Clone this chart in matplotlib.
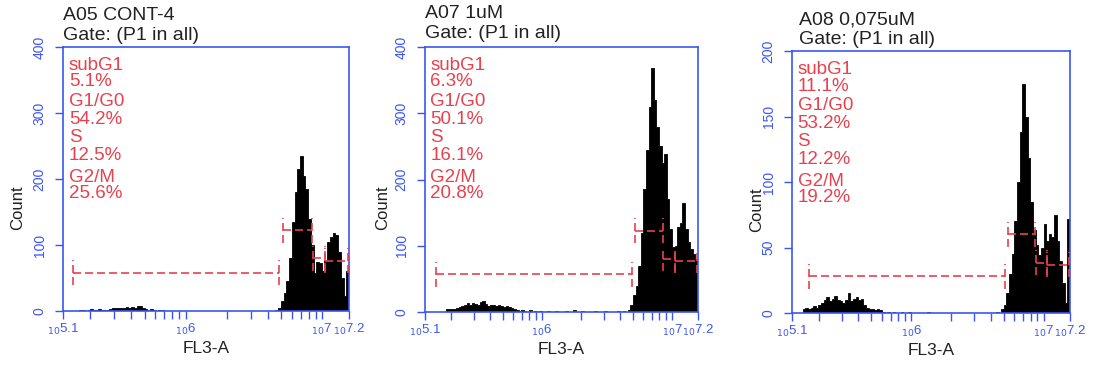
import numpy as np
import matplotlib
matplotlib.use("Agg")
import matplotlib.pyplot as plt
from matplotlib.ticker import LogLocator, NullFormatter

plt.rcParams['font.family'] = ['Liberation Sans', 'DejaVu Sans']

W, H = 1098, 370

# histogram counts, bins of 0.02 decade from 10^5.1 to 10^7.2 (105 bins)
a05_counts = [
    0, 0, 0, 0, 0, 0, 1, 2, 0, 2, 3, 1, 2, 3, 2,
    1, 2, 3, 4, 5, 5, 4, 5, 6, 5, 6, 4, 7, 8, 5,
    3, 2, 3, 1, 0, 2, 1, 0, 0, 0, 0, 0, 0, 0, 0,
    0, 0, 0, 0, 0, 0, 0, 0, 0, 0, 0, 0, 0, 0, 0,
    0, 0, 0, 0, 0, 0, 0, 0, 0, 0, 0, 0, 0, 0, 0,
    0, 0, 0, 2, 5, 15, 28, 45, 80, 135, 180, 215, 235, 205, 185,
    140, 100, 57, 75, 72, 60, 78, 105, 112, 118, 115, 90, 50, 22, 60,
]
a07_counts = [
    0, 0, 0, 0, 0, 0, 0, 0, 4, 5, 4, 5, 6, 7, 9,
    11, 13, 10, 14, 12, 11, 15, 17, 12, 9, 10, 11, 9, 10, 9,
    8, 9, 7, 6, 5, 3, 2, 3, 2, 0, 3, 0, 2, 0, 2,
    0, 0, 2, 0, 0, 2, 0, 0, 0, 2, 0, 0, 3, 0, 0,
    2, 0, 0, 0, 0, 2, 0, 0, 0, 2, 0, 0, 0, 0, 2,
    0, 2, 0, 3, 10, 25, 40, 70, 120, 185, 245, 310, 368, 320, 280,
    250, 225, 238, 170, 125, 98, 100, 128, 135, 165, 125, 105, 95, 88, 80,
]
a08_counts = [
    0, 0, 0, 0, 3, 4, 3, 4, 5, 4, 6, 8, 10, 12, 9,
    11, 13, 10, 9, 8, 10, 15, 9, 11, 12, 10, 11, 6, 4, 3,
    3, 2, 3, 2, 1, 0, 1, 0, 1, 0, 0, 1, 0, 0, 1,
    0, 0, 0, 0, 0, 0, 1, 0, 0, 0, 0, 0, 0, 0, 0,
    0, 0, 0, 0, 0, 0, 0, 0, 0, 0, 0, 0, 0, 0, 0,
    0, 0, 1, 0, 3, 6, 15, 30, 45, 70, 100, 138, 175, 150, 118,
    85, 63, 52, 44, 50, 68, 55, 60, 58, 75, 55, 40, 23, 8, 72,
]

# gates: log10 start / end and level (count)
gate_names = ["subG1", "G1/G0", "S", "G2/M"]
a05_gate_lo = [5.171, 6.713, 6.938, 7.024]
a05_gate_hi = [6.686, 6.930, 7.024, 7.195]
a05_gate_y = [58, 122, 80, 76]
a07_gate_lo = [5.182, 6.715, 6.933, 7.023]
a07_gate_hi = [6.690, 6.928, 7.023, 7.190]
a07_gate_y = [57, 123, 80, 77]
a08_gate_lo = [5.228, 6.729, 6.943, 7.028]
a08_gate_hi = [6.709, 6.935, 7.028, 7.194]
a08_gate_y = [28, 60, 38.5, 37]

a05_pct = ["5.1%", "54.2%", "12.5%", "25.6%"]
a07_pct = ["6.3%", "50.1%", "16.1%", "20.8%"]
a08_pct = ["11.1%", "53.2%", "12.2%", "19.2%"]

titles = ["A05 CONT-4", "A07 1uM", "A08 0,075uM"]
y_max = [400, 400, 200]
y_ticks = [[0, 100, 200, 300, 400], [0, 100, 200, 300, 400], [0, 50, 100, 150, 200]]

BLUE = '#3b55f5'
RED = '#e8414d'

panels = [
    dict(counts=a05_counts, lo=a05_gate_lo, hi=a05_gate_hi, gy=a05_gate_y, pct=a05_pct,
         box=(63, 47, 349, 311), title_xy=(63, 15, 35), count_xy=(18, 208)),
    dict(counts=a07_counts, lo=a07_gate_lo, hi=a07_gate_hi, gy=a07_gate_y, pct=a07_pct,
         box=(425, 47, 698, 312), title_xy=(425, 14, 33), count_xy=(383, 208)),
    dict(counts=a08_counts, lo=a08_gate_lo, hi=a08_gate_hi, gy=a08_gate_y, pct=a08_pct,
         box=(792, 51, 1070, 313), title_xy=(799, 20, 39), count_xy=(757, 210)),
]

edges = 10 ** np.linspace(5.1, 7.2, 106)

fig = plt.figure(figsize=(W / 100, H / 100), dpi=100)

for i, p in enumerate(panels):
    l, t, r, b = p['box']
    ax = fig.add_axes([l / W, 1 - b / H, (r - l) / W, (b - t) / H])
    ax.stairs(p['counts'], edges, fill=True, facecolor='black', edgecolor='black',
              lw=0.6, zorder=2)

    ax.set_xscale('log')
    ax.set_xlim(10 ** 5.1, 10 ** 7.2)
    ax.set_ylim(0, y_max[i])
    ax.set_xticks([10 ** 5.1, 1e6, 1e7, 10 ** 7.2],
                  [r'$_{10}$5.1', r'$_{10}$6', r'$_{10}$7', r'$_{10}$7.2'])
    ax.xaxis.set_minor_locator(LogLocator(base=10, subs=np.arange(2, 10)))
    ax.xaxis.set_minor_formatter(NullFormatter())
    ax.set_yticks(y_ticks[i])

    for s in ax.spines.values():
        s.set_color(BLUE)
        s.set_linewidth(1.2)
    ax.tick_params(axis='both', which='both', colors=BLUE, direction='out',
                   length=5.8, width=1.0)
    ax.tick_params(axis='x', labelsize=9.5, pad=2)
    ax.tick_params(axis='y', labelsize=10, pad=6, labelrotation=90)
    for lab in ax.get_yticklabels():
        lab.set_va('center')

    # gates
    half = 0.047 * y_max[i]
    for lo, hi, gy in zip(p['lo'], p['hi'], p['gy']):
        kw = dict(color=RED, lw=1.2, linestyle=(0, (4.8, 2.4)), zorder=3)
        ax.plot([10 ** lo, 10 ** hi], [gy, gy], **kw)
        for xv in (lo, hi):
            ax.plot([10 ** xv, 10 ** xv], [gy - half, gy + half], **kw)

    # gate stats text
    hpx = b - t
    offs = [18.5, 35, 55, 72, 90.5, 108.5, 130, 146.5]
    k = 0
    for name, pc in zip(gate_names, p['pct']):
        for s in (name, pc):
            ax.text(0.02, 1 - offs[k] / hpx, s, transform=ax.transAxes, color=RED,
                    fontsize=13.5, ha='left', va='center')
            k += 1

    ax.text(0.5, -37.5 / hpx, "FL3-A", transform=ax.transAxes, fontsize=12.5,
            ha='center', va='center', color='#222222')

    tx, ty1, ty2 = p['title_xy']
    fig.text(tx / W, 1 - ty1 / H, titles[i], fontsize=14, ha='left', va='center',
             color='#222222')
    fig.text(tx / W, 1 - ty2 / H, "Gate: (P1 in all)", fontsize=14, ha='left',
             va='center', color='#222222')
    cx, cy = p['count_xy']
    fig.text(cx / W, 1 - cy / H, "Count", fontsize=12, rotation=90, ha='center',
             va='center', color='#222222')

fig.savefig("out.png", dpi=100, facecolor='white')
